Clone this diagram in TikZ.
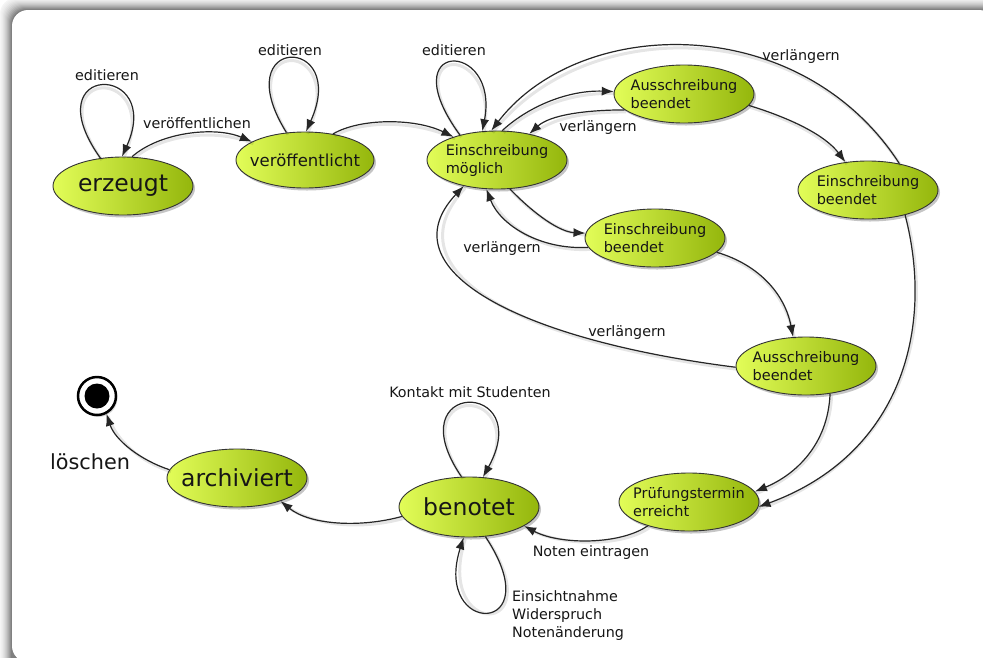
\documentclass[tikz,border=0pt]{standalone}
\usepackage{fontspec}
\setmainfont{DejaVu Sans}
\usetikzlibrary{shapes.geometric,arrows.meta,shadows}
\definecolor{nodeL}{RGB}{226,253,88}
\definecolor{nodeR}{RGB}{148,182,12}
\definecolor{txt}{RGB}{22,22,22}
\begin{document}
\begin{tikzpicture}[x=1pt,y=-1pt,
  stnode/.style={ellipse, draw=black!80, line width=0.9pt, left color=nodeL, right color=nodeR,
    minimum width=140pt, minimum height=58pt, inner xsep=-15pt, inner ysep=0pt, align=left, text=txt,
    drop shadow={shadow xshift=2pt, shadow yshift=-2.5pt, opacity=0.45}},
  bigtxt/.style={font=\fontsize{23.5}{28}\selectfont},
  smalltxt/.style={font=\fontsize{14.5}{18}\selectfont},
  lbl/.style={font=\fontsize{14.3}{18}\selectfont, text=txt, inner sep=0pt},
  conn/.style={line width=1.2pt, draw=black!85, -{Latex[length=12pt,width=9pt]},
    preaction={draw=black, opacity=0.1, line width=3pt, -, transform canvas={shift={(1.5pt,-2pt)}}}},
]
\useasboundingbox (0,0) rectangle (983,657);
% frame with shadow
\fill[white] (0,0) rectangle (983,657);
\foreach \k/\g in {12/4,11/6,10/8,9/11,8/14,7/18,6/22,5/27,4/32,3/38,2/44,1/50}
  \fill[black!\g, rounded corners=16pt] (12-\k,10-\k) rectangle (1010,700);
\fill[white, rounded corners=16pt] (12,10) rectangle (995,662);

% states
\node[stnode,bigtxt] (erz) at (123,186) {erzeugt};
\node[stnode,font=\fontsize{16.5}{20}\selectfont, minimum width=138pt, minimum height=56pt] (ver) at (305,160) {veröffentlicht};
\node[stnode,smalltxt] (moe) at (497,160) {Einschreibung\\möglich};
\node[stnode,smalltxt] (aus1) at (684,94) {Ausschreibung\\beendet};
\node[stnode,smalltxt] (ein1) at (868,190) {Einschreibung\\beendet};
\node[stnode,smalltxt] (ein2) at (655,238) {Einschreibung\\beendet};
\node[stnode,smalltxt] (aus2) at (806,366) {Ausschreibung\\beendet};
\node[stnode,smalltxt] (pru) at (689,502) {Prüfungstermin\\erreicht};
\node[stnode,bigtxt, minimum height=60pt] (ben) at (469,507) {benotet};
\node[stnode,bigtxt] (arc) at (237,478) {archiviert};
\node[circle, draw=black, line width=2.5pt, fill=white, minimum size=38pt, inner sep=0pt,
  drop shadow={shadow xshift=1.5pt, shadow yshift=-2pt, opacity=0.3}] (fin) at (97,396) {};
\node[circle, fill=black, minimum size=25pt, inner sep=0pt] (fincore) at (fin.center) {};

% transitions
\draw[conn] (erz.129) .. controls (32,62) and (165,62) .. (erz.92);
\node[lbl] (l1) at (107,75) {editieren};
\draw[conn] (erz.73) .. controls (160,132) and (215,126) .. (ver.161);
\node[lbl] (l2) at (197,123) {veröffentlichen};
\draw[conn] (ver.124) .. controls (225,34) and (350,34) .. (ver.88);
\node[lbl] (l3) at (290,50) {editieren};
\draw[conn] (ver.43) .. controls (360,118) and (415,118) .. (moe.152);
\draw[conn] (moe.146) .. controls (390,39) and (500,39) .. (moe.117);
\node[lbl] (l4) at (454,50) {editieren};
\draw[conn] (moe.80) .. controls (530,105) and (570,90) .. (aus1.178);
\draw[conn] (aus1.195) .. controls (585,110) and (550,115) .. (moe.39);
\node[lbl] (l5) at (598,128) {verlängern};
\draw[conn] (aus1.-10) .. controls (790,118) and (825,135) .. (ein1.129);
\draw[conn] (ein1.40) .. controls (800,10) and (580,15) .. (moe.101);
\node[lbl] (l6) at (801,57) {verlängern};
\draw[conn] (ein1.-34) .. controls (935,330) and (900,455) .. (pru.-4);
\draw[conn] (moe.-66) .. controls (535,215) and (560,232) .. (ein2.176);
\draw[conn] (ein2.188) .. controls (540,250) and (500,225) .. (moe.-110);
\node[lbl] (l7) at (502,249) {verlängern};
\draw[conn] (ein2.-13) .. controls (760,265) and (785,295) .. (aus2.114);
\draw[conn] (aus2.181) .. controls (520,340) and (385,270) .. (moe.-142);
\node[lbl] (l8) at (627,333) {verlängern};
\draw[conn] (aus2.-49) .. controls (828,445) and (795,475) .. (pru.9);
\draw[conn] (pru.210) .. controls (620,545) and (560,545) .. (ben.-19);
\node[lbl] (l9) at (591,553) {Noten eintragen};
\draw[conn] (ben.104) .. controls (395,379) and (537,379) .. (ben.65);
\node[lbl] (l10) at (470,392) {Kontakt mit Studenten};
\draw[conn] (ben.-61) .. controls (552,637) and (432,637) .. (ben.-100);
\node[lbl, align=left, anchor=west] (l11) at (512,616) {Einsichtnahme\\Widerspruch\\Notenänderung};
\draw[conn] (ben.188) .. controls (360,528) and (310,525) .. (arc.-28);
\draw[conn] (arc.173) .. controls (140,460) and (115,440) .. (fin.-62);
\node[lbl, font=\fontsize{20.8}{24}\selectfont] (l12) at (90,462) {löschen};
\end{tikzpicture}
\end{document}
